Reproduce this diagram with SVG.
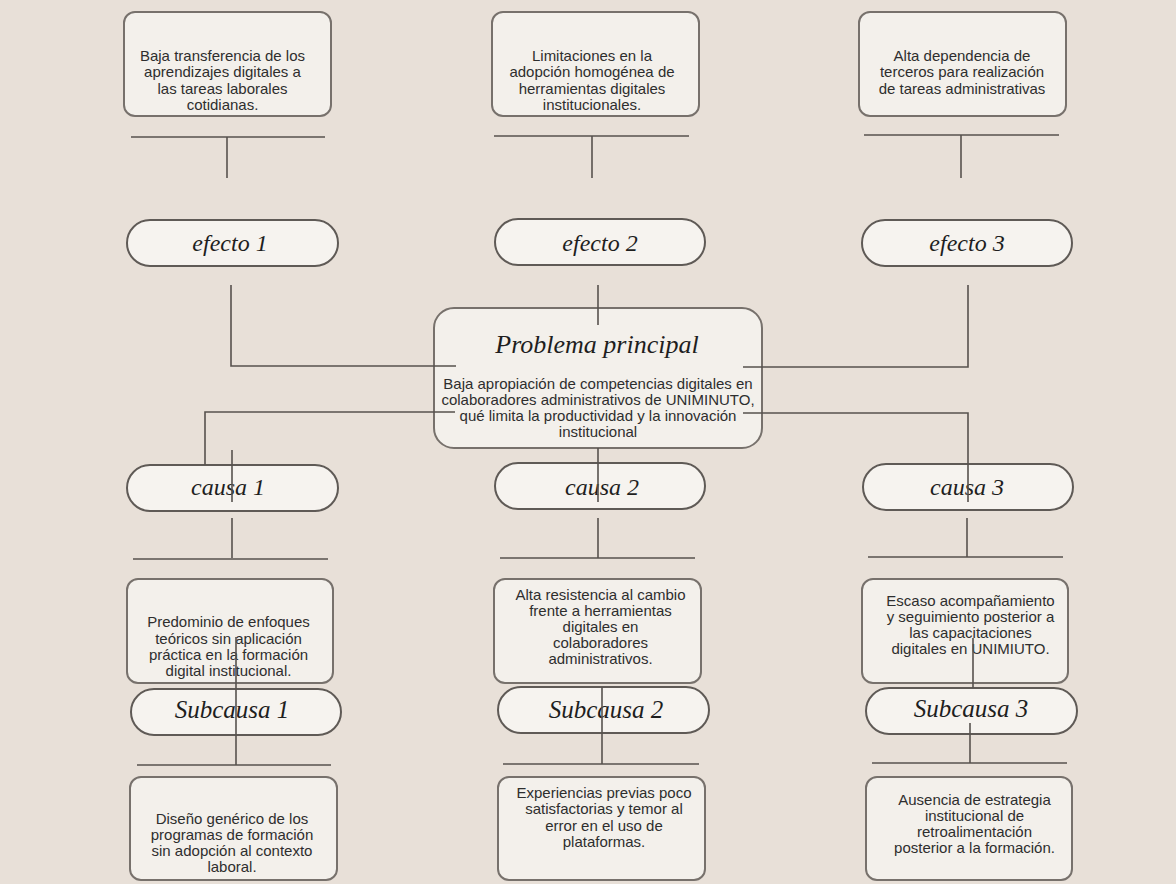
<svg xmlns="http://www.w3.org/2000/svg" width="1176" height="884" viewBox="0 0 1176 884">
<style>
.box{fill:#f3f0eb;stroke:#77716c;stroke-width:2}
.pill{fill:#f6f3ef;stroke:#5f5a56;stroke-width:2}
.body{font-family:"Liberation Sans",Arial,sans-serif;font-size:15px;fill:#2e2e2e;text-anchor:middle}
.lbl{font-family:"Liberation Serif","Times New Roman",serif;font-style:italic;fill:#1e1e1e;text-anchor:middle}
.conn line,.conn polyline{stroke:#57524e;stroke-width:1.6;fill:none}
</style>
<rect x="0" y="0" width="1176" height="884" fill="#e8e0d8"/>

<g id="efecto1-box"><rect class="box" x="124" y="12" width="207" height="104" rx="11"/>
<text class="body"><tspan x="222.5" y="61">Baja transferencia de los</tspan><tspan x="222.5" y="77.3">aprendizajes digitales a</tspan><tspan x="222.5" y="93.6">las tareas laborales</tspan><tspan x="222.5" y="110">cotidianas.</tspan></text></g>
<g id="efecto2-box"><rect class="box" x="492" y="12" width="207" height="104" rx="11"/>
<text class="body"><tspan x="592" y="61">Limitaciones en la</tspan><tspan x="592" y="77.3">adopción homogénea de</tspan><tspan x="592" y="93.6">herramientas digitales</tspan><tspan x="592" y="110">institucionales.</tspan></text></g>
<g id="efecto3-box"><rect class="box" x="859" y="12" width="207" height="104" rx="11"/>
<text class="body"><tspan x="962" y="61">Alta dependencia de</tspan><tspan x="962" y="77.3">terceros para realización</tspan><tspan x="962" y="93.6">de tareas administrativas</tspan></text></g>

<g id="efecto1"><rect class="pill" x="127" y="220" width="211" height="46" rx="23"/><text class="lbl" x="230" y="251" font-size="24">efecto 1</text></g>
<g id="efecto2"><rect class="pill" x="495" y="219" width="210" height="46" rx="23"/><text class="lbl" x="600" y="251" font-size="24">efecto 2</text></g>
<g id="efecto3"><rect class="pill" x="862" y="220" width="210" height="46" rx="23"/><text class="lbl" x="967" y="251" font-size="24">efecto 3</text></g>

<g id="problema"><rect class="box" x="434" y="308" width="328" height="140" rx="20"/>
<text class="lbl" x="597" y="353" font-size="26">Problema principal</text>
<text class="body"><tspan x="598" y="388.5">Baja apropiación de competencias digitales en</tspan><tspan x="598" y="404.5">colaboradores administrativos de UNIMINUTO,</tspan><tspan x="598" y="421">qué limita la productividad y la innovación</tspan><tspan x="598" y="437">institucional</tspan></text></g>

<g id="causa1"><rect class="pill" x="127" y="465" width="211" height="46" rx="23"/><text class="lbl" x="228" y="495" font-size="24">causa 1</text></g>
<g id="causa2"><rect class="pill" x="495" y="463" width="210" height="46" rx="23"/><text class="lbl" x="602" y="495" font-size="24">causa 2</text></g>
<g id="causa3"><rect class="pill" x="863" y="464" width="210" height="46" rx="23"/><text class="lbl" x="967" y="495" font-size="24">causa 3</text></g>

<g id="causa1-box"><rect class="box" x="127" y="579" width="206" height="104" rx="11"/>
<text class="body"><tspan x="228.5" y="627">Predominio de enfoques</tspan><tspan x="228.5" y="643.5">teóricos sin aplicación</tspan><tspan x="228.5" y="660">práctica en la formación</tspan><tspan x="228.5" y="676">digital institucional.</tspan></text></g>
<g id="causa2-box"><rect class="box" x="494" y="579" width="207" height="104" rx="11"/>
<text class="body"><tspan x="600.5" y="600">Alta resistencia al cambio</tspan><tspan x="600.5" y="616">frente a herramientas</tspan><tspan x="600.5" y="632.3">digitales en</tspan><tspan x="600.5" y="648.3">colaboradores</tspan><tspan x="600.5" y="664.3">administrativos.</tspan></text></g>
<g id="causa3-box"><rect class="box" x="862" y="579" width="206" height="104" rx="11"/>
<text class="body"><tspan x="970.5" y="606">Escaso acompañamiento</tspan><tspan x="970.5" y="622">y seguimiento posterior a</tspan><tspan x="970.5" y="638">las capacitaciones</tspan><tspan x="970.5" y="654">digitales en UNIMIUTO.</tspan></text></g>

<g id="subcausa1"><rect class="pill" x="131" y="689" width="210" height="46" rx="23"/><text class="lbl" x="232" y="718" font-size="25">Subcausa 1</text></g>
<g id="subcausa2"><rect class="pill" x="498" y="687" width="211" height="46" rx="23"/><text class="lbl" x="606" y="718" font-size="25">Subcausa 2</text></g>
<g id="subcausa3"><rect class="pill" x="866" y="688" width="211" height="46" rx="23"/><text class="lbl" x="971" y="717" font-size="25">Subcausa 3</text></g>

<g id="subcausa1-box"><rect class="box" x="130" y="777" width="207" height="103" rx="11"/>
<text class="body"><tspan x="232" y="824">Diseño genérico de los</tspan><tspan x="232" y="840">programas de formación</tspan><tspan x="232" y="856">sin adopción al contexto</tspan><tspan x="232" y="872">laboral.</tspan></text></g>
<g id="subcausa2-box"><rect class="box" x="498" y="777" width="207" height="103" rx="11"/>
<text class="body"><tspan x="604" y="798">Experiencias previas poco</tspan><tspan x="604" y="814">satisfactorias y temor al</tspan><tspan x="604" y="830.5">error en el uso de</tspan><tspan x="604" y="846.5">plataformas.</tspan></text></g>
<g id="subcausa3-box"><rect class="box" x="866" y="777" width="206" height="103" rx="11"/>
<text class="body"><tspan x="974.5" y="804.5">Ausencia de estrategia</tspan><tspan x="974.5" y="820.5">institucional de</tspan><tspan x="974.5" y="836.5">retroalimentación</tspan><tspan x="974.5" y="852.5">posterior a la formación.</tspan></text></g>

<g id="connectors" class="conn">
<line x1="131" y1="137" x2="325" y2="137"/><line x1="227" y1="137" x2="227" y2="178"/>
<line x1="494" y1="136" x2="689" y2="136"/><line x1="592" y1="136" x2="592" y2="178"/>
<line x1="864" y1="135" x2="1059" y2="135"/><line x1="961" y1="135" x2="961" y2="178"/>
<polyline points="231,285 231,366 456,366"/>
<line x1="598" y1="285" x2="598" y2="325"/>
<polyline points="968,285 968,367 743,367"/>
<polyline points="455,412 205,412 205,465"/>
<line x1="232" y1="450" x2="232" y2="502"/>
<line x1="598" y1="448" x2="598" y2="502"/>
<polyline points="743,413 968,413 968,502"/>
<line x1="232" y1="518" x2="232" y2="558"/><line x1="133" y1="559" x2="328" y2="559"/>
<line x1="598" y1="518" x2="598" y2="558"/><line x1="500" y1="558" x2="695" y2="558"/>
<line x1="967" y1="518" x2="967" y2="557"/><line x1="868" y1="557" x2="1063" y2="557"/>
<line x1="236" y1="637" x2="236" y2="765"/><line x1="137" y1="765" x2="331" y2="765"/>
<line x1="602" y1="687" x2="602" y2="764"/><line x1="503" y1="764" x2="699" y2="764"/>
<line x1="973" y1="638" x2="973" y2="688"/><line x1="970" y1="723" x2="970" y2="763"/><line x1="872" y1="763" x2="1067" y2="763"/>
</g>
</svg>
